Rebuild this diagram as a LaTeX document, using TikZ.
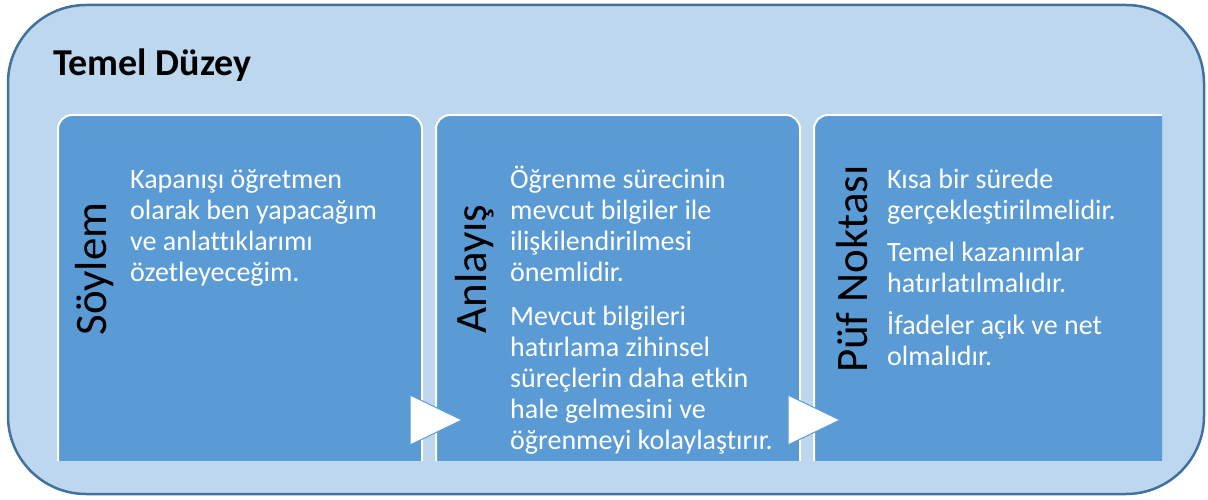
\documentclass[tikz,border=0pt]{standalone}
\usepackage{fontspec}
\setmainfont{Carlito}[Ligatures=NoCommon]
\definecolor{framefill}{HTML}{BDD7EE}
\definecolor{frameline}{HTML}{41719C}
\definecolor{stepfill}{HTML}{5B9BD5}
\tikzset{
  stepbox/.style={draw=white, line width=2pt, fill=stepfill, rounded corners=14pt,
                  minimum width=364pt, minimum height=370pt, anchor=north west, inner sep=0pt},
  steptitle/.style={rotate=90, font=\fontsize{45}{52}\selectfont, inner sep=0pt},
  steptext/.style={anchor=north west, inner sep=0pt, text=white, align=left,
                   font=\fontsize{28}{31}\selectfont},
  steparrow/.style={fill=white, draw=stepfill, line width=1pt},
}

\begin{document}
\begin{tikzpicture}[x=1pt, y=-1pt]
    \useasboundingbox (0,0) rectangle (1208,500);
    \draw[frameline, fill=framefill, line width=2.5pt, rounded corners=78pt] (8,5) rectangle (1204,494);
    \node[anchor=base west, inner sep=0pt, font=\bfseries\fontsize{38}{44}\selectfont] (level) at (53,76) {Temel Düzey};
    \begin{scope}
      \clip (0,0) rectangle (1162,460);
      \node[stepbox] (soylem) at (57,114) {};
      \node[stepbox] (anlayis) at (435,114) {};
      \node[stepbox] (puf) at (813,114) {};
    \end{scope}
    \node[steptitle] (soylemlabel) at (95,269) {Söylem};
    \node[steptitle] (anlayislabel) at (475,269) {Anlayış};
    \node[steptitle] (puflabel) at (852,269) {Püf Noktası};
    \node[steptext] (soylemtext) at (130,166.3) {\strut Kapanışı öğretmen\\olarak ben yapacağım\\ve anlattıklarımı\\özetleyeceğim.};
    \node[steptext] (anlayistext) at (510,166.3) {\strut Öğrenme sürecinin\\mevcut bilgiler ile\\ilişkilendirilmesi\\önemlidir.\\[13pt]Mevcut bilgileri\\hatırlama zihinsel\\süreçlerin daha etkin\\hale gelmesini ve\\öğrenmeyi kolaylaştırır.};
    \node[steptext] (puftext) at (887,166.3) {\strut Kısa bir sürede\\gerçekleştirilmelidir.\\[11pt]Temel kazanımlar\\hatırlatılmalıdır.\\[11pt]İfadeler açık ve net\\olmalıdır.};
    \draw[steparrow] (410,395) -- (462,420) -- (410,445) -- cycle;
    \draw[steparrow] (788,395) -- (840,420) -- (788,445) -- cycle;
  \end{tikzpicture}
\end{document}
